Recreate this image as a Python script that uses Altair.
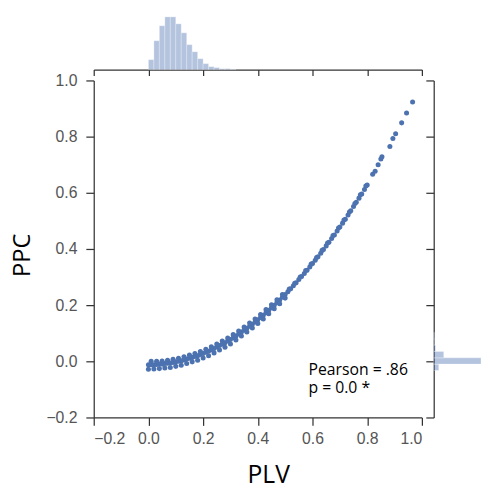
import altair as alt
import pandas as pd

# ---- scatter data ----
plv_main = [0.00, 0.01, 0.02, 0.03, 0.04, 0.05, 0.06, 0.07, 0.08, 0.09,
            0.10, 0.11, 0.12, 0.13, 0.14, 0.15, 0.16, 0.17, 0.18, 0.19,
            0.20, 0.21, 0.22, 0.23, 0.24, 0.25, 0.26, 0.27, 0.28, 0.29,
            0.30, 0.31, 0.32, 0.33, 0.34, 0.35, 0.36, 0.37, 0.38, 0.39,
            0.40, 0.41, 0.42, 0.43, 0.44, 0.45, 0.46, 0.47, 0.48, 0.49,
            0.50, 0.51, 0.52, 0.53, 0.54, 0.55, 0.56, 0.57, 0.58, 0.59,
            0.60, 0.61, 0.62, 0.63, 0.64, 0.65, 0.66, 0.67, 0.68, 0.69,
            0.70, 0.71, 0.72, 0.73, 0.74, 0.75, 0.76, 0.77, 0.78, 0.79, 0.80]
ppc_main = [-0.012, -0.012, -0.012, -0.011, -0.010, -0.010, -0.008, -0.007, -0.006, -0.004,
            -0.002, 0.000, 0.002, 0.005, 0.008, 0.011, 0.014, 0.017, 0.020, 0.024,
            0.028, 0.032, 0.036, 0.041, 0.046, 0.051, 0.056, 0.061, 0.066, 0.072,
            0.078, 0.084, 0.090, 0.097, 0.104, 0.111, 0.118, 0.125, 0.132, 0.140,
            0.148, 0.156, 0.164, 0.173, 0.182, 0.191, 0.200, 0.209, 0.218, 0.228,
            0.238, 0.248, 0.258, 0.269, 0.280, 0.291, 0.302, 0.313, 0.324, 0.336,
            0.348, 0.360, 0.372, 0.385, 0.398, 0.411, 0.424, 0.437, 0.450, 0.464,
            0.478, 0.492, 0.506, 0.521, 0.536, 0.551, 0.566, 0.581, 0.596, 0.612, 0.628]

plv_low = [0.00, 0.02, 0.04, 0.06, 0.08, 0.10, 0.12, 0.14, 0.16, 0.18, 0.20, 0.22, 0.24,
           0.26, 0.28, 0.30, 0.32, 0.34, 0.36, 0.38, 0.40, 0.42, 0.44, 0.46, 0.48, 0.50]
ppc_low = [-0.028, -0.027, -0.026, -0.024, -0.022, -0.018, -0.014, -0.008, -0.002, 0.004,
           0.012, 0.020, 0.030, 0.040, 0.050, 0.062, 0.076, 0.090, 0.104, 0.119,
           0.135, 0.151, 0.169, 0.187, 0.205, 0.225]

plv_up = [0.01, 0.03, 0.05, 0.07, 0.09, 0.11, 0.13, 0.15, 0.17, 0.19, 0.21, 0.23, 0.25,
          0.27, 0.29, 0.31, 0.33, 0.35, 0.37, 0.39, 0.41, 0.43, 0.45, 0.47, 0.49]
ppc_up = [0.000, 0.000, 0.001, 0.004, 0.007, 0.011, 0.016, 0.022, 0.028, 0.035,
          0.043, 0.052, 0.062, 0.072, 0.083, 0.095, 0.108, 0.122, 0.136, 0.151,
          0.167, 0.184, 0.201, 0.219, 0.238]

plv_mid2 = [0.515, 0.535, 0.555, 0.575, 0.595, 0.615, 0.635, 0.655,
            0.675, 0.695, 0.715, 0.735, 0.755, 0.775, 0.795]
ppc_mid2 = [0.257, 0.278, 0.300, 0.323, 0.346, 0.370, 0.395, 0.421,
            0.448, 0.475, 0.503, 0.532, 0.562, 0.593, 0.624]

plv_top = [0.82, 0.829, 0.84, 0.85, 0.854, 0.883, 0.894, 0.904, 0.926, 0.944, 0.966]
ppc_top = [0.666, 0.677, 0.700, 0.720, 0.728, 0.765, 0.793, 0.810, 0.849, 0.884, 0.923]

# ---- marginal histograms ----
plv_bin_start = [0.00, 0.02, 0.04, 0.06, 0.08, 0.10, 0.12, 0.14,
                 0.16, 0.18, 0.20, 0.22, 0.24, 0.26, 0.28, 0.30]
plv_bin_count = [93, 270, 410, 493, 493, 428, 344, 233,
                 167, 102, 56, 28, 19, 9, 9, 5]
plv_bin_width = 0.02

ppc_bin_start = [-0.0325, -0.01, 0.0125, 0.035, 0.0575, 0.08]
ppc_bin_count = [170, 2700, 340, 60, 30, 20]
ppc_bin_width = 0.0225

ann_text = ["Pearson = .86", "p = 0.0 *"]
ann_x = [0.585, 0.585]
ann_y = [-0.048, -0.112]

ticks = [-0.2, 0.0, 0.2, 0.4, 0.6, 0.8, 1.0]

blue = "#4C72B0"
axis_color = "#333333"
label_color = "#555555"

scatter_df = pd.DataFrame({
    "PLV": plv_main + plv_low + plv_up + plv_mid2 + plv_top,
    "PPC": ppc_main + ppc_low + ppc_up + ppc_mid2 + ppc_top,
})
plv_hist = pd.DataFrame({"start": plv_bin_start, "count": plv_bin_count})
plv_hist["end"] = plv_hist["start"] + plv_bin_width
ppc_hist = pd.DataFrame({"start": ppc_bin_start, "count": ppc_bin_count})
ppc_hist["end"] = ppc_hist["start"] + ppc_bin_width
ann_df = pd.DataFrame({"x": ann_x, "y": ann_y, "t": ann_text})

def sc():
    return alt.Scale(domain=[-0.2, 1.0], nice=False, zero=False)

common = dict(domainColor=axis_color, tickColor=axis_color, domainWidth=1.25,
              tickWidth=1.25, grid=False, values=ticks)

W, H = 333, 342
TOPH, RW = 57, 48

x_axis = alt.Axis(title="PLV", format=".1f", labelFont="Liberation Sans", labelFontSize=16,
                  labelColor=label_color, tickSize=8, labelPadding=5,
                  titleFont="Open Sans", titleFontSize=25, titleFontWeight="normal",
                  titleColor="black", titleX=177, titleY=66, titleBaseline="alphabetic",
                  titleAlign="center", **common)
y_axis = alt.Axis(title="PPC", format=".1f", labelFont="Liberation Sans", labelFontSize=16,
                  labelColor=label_color, tickSize=8, labelPadding=9,
                  titleFont="Open Sans", titleFontSize=24, titleFontWeight="normal",
                  titleColor="black", titleAngle=270, titleX=-65, titleY=177,
                  titleBaseline="alphabetic", titleAlign="center", **common)

points = alt.Chart(scatter_df).mark_circle(size=26, color=blue, opacity=1).encode(
    x=alt.X("PLV:Q", scale=sc(), axis=x_axis),
    y=alt.Y("PPC:Q", scale=sc(), axis=y_axis),
)
labels = alt.Chart(ann_df).mark_text(align="left", baseline="alphabetic", font="Open Sans",
                                     fontSize=16, color="black").encode(
    x=alt.X("x:Q", scale=sc()), y=alt.Y("y:Q", scale=sc()), text="t:N")
main = alt.layer(points, labels).properties(width=W, height=H)

top = alt.Chart(plv_hist).mark_bar(color=blue, fillOpacity=0.42, stroke="white",
                                    strokeWidth=0.6, strokeOpacity=0.5).encode(
    x=alt.X("start:Q", scale=sc(), axis=alt.Axis(labels=False, title=None, tickSize=6, **common)),
    x2="end:Q",
    y=alt.Y("count:Q", scale=alt.Scale(domain=[0, 525], nice=False), axis=None),
    y2=alt.datum(0),
).properties(width=W, height=TOPH)

right = alt.Chart(ppc_hist).mark_bar(color=blue, fillOpacity=0.42, stroke="white",
                                      strokeWidth=0.6, strokeOpacity=0.5).encode(
    y=alt.Y("start:Q", scale=sc(), axis=alt.Axis(labels=False, title=None, tickSize=8, **common)),
    y2="end:Q",
    x=alt.X("count:Q", scale=alt.Scale(domain=[0, 1600], nice=False, clamp=True), axis=None),
    x2=alt.datum(0),
).properties(width=RW, height=H)

blank = alt.Chart(pd.DataFrame({"a": [0]})).mark_point(opacity=0).encode(
    x=alt.X("a:Q", axis=None), y=alt.Y("a:Q", axis=None)
).transform_filter("false").properties(width=RW, height=TOPH)

chart = alt.concat(top, blank, main, right, columns=2,
                   spacing={"row": 11, "column": 12}, bounds="flush").resolve_scale(
    x="independent", y="independent"
).properties(
    padding={"left": 3, "top": 2, "right": 0, "bottom": -5},
    background="white",
).configure_view(strokeWidth=0, stroke=None)

chart.save("out.html", embed_options={"renderer": "svg", "actions": False})
